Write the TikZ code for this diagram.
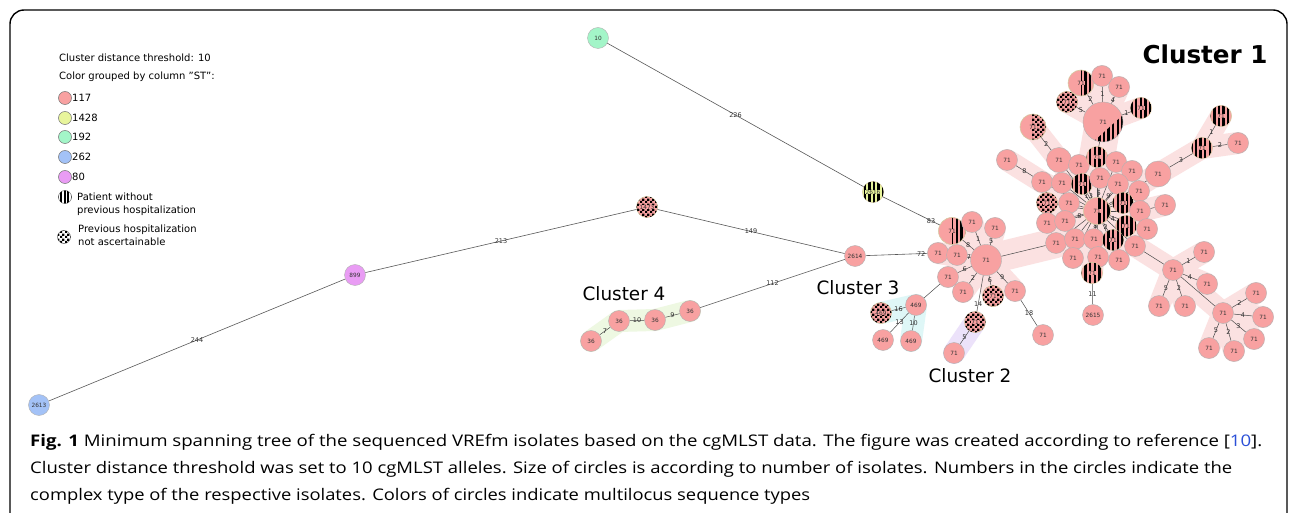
\documentclass[tikz,border=0pt]{standalone}
\usepackage{fontspec}
\setmainfont{DejaVu Sans}
\newfontfamily\capfont{Open Sans}
\usepackage{graphicx}
\usetikzlibrary{patterns,patterns.meta}
\definecolor{pk}{HTML}{F8A1A1}
\definecolor{pkband}{HTML}{FBE1E1}
\definecolor{ylw}{HTML}{E8F59C}
\definecolor{grn}{HTML}{A3F5C8}
\definecolor{blu}{HTML}{A3C2F7}
\definecolor{vio}{HTML}{E99CF4}
\definecolor{tanb}{HTML}{D6C8A0}
\definecolor{cyb}{HTML}{DFF7F7}
\definecolor{lvb}{HTML}{ECE2FA}
\definecolor{grb}{HTML}{EEF8E2}
\definecolor{edgec}{HTML}{4A4A4A}
\definecolor{refblue}{HTML}{2B50D8}
\pgfdeclarepatternformonly{chk}{\pgfpointorigin}{\pgfqpoint{5pt}{5pt}}{\pgfqpoint{5pt}{5pt}}{%
  \pgfpathrectangle{\pgfpointorigin}{\pgfqpoint{2.55pt}{2.55pt}}%
  \pgfpathrectangle{\pgfqpoint{2.5pt}{2.5pt}}{\pgfqpoint{2.55pt}{2.55pt}}%
  \pgfusepath{fill}}
\newcommand\tagbx[2][pk]{{\setlength{\fboxsep}{0.3pt}\colorbox{#1}{#2}}}
\pgfdeclarelayer{bands}
\pgfdeclarelayer{edges}
\pgfsetlayers{bands,edges,main}
\tikzset{
  nd/.style={circle, draw=black!30, line width=0.4pt, fill=pk, inner sep=0pt,
    minimum size=21pt, font=\fontsize{5.8}{5.8}\selectfont, text=black!80},
  sz/.style={minimum size=#1},
  strp/.style={pattern={Lines[angle=90,distance=4.6pt,line width=2.3pt]}, pattern color=black},
  st/.style={nd, draw=tanb, line width=0.6pt, postaction={strp}},
  ck/.style={nd, draw=tanb, line width=0.6pt, postaction={pattern=chk, pattern color=black}},
  ps/.style={nd, draw=tanb, line width=0.6pt, path picture={\fill[strp] ([xshift=#1]path picture bounding box.south) rectangle (path picture bounding box.north east);}},
  pc/.style={nd, draw=tanb, line width=0.6pt, path picture={\fill[pattern=chk, pattern color=black] ([xshift=#1]path picture bounding box.south) rectangle (path picture bounding box.north east);}},
  udiag/.style={path picture={\fill[strp] ([xshift=-10pt]path picture bounding box.south) -- ([yshift=7pt]path picture bounding box.east) -- (path picture bounding box.south east) -- cycle;}},
  ed/.style={draw=edgec, line width=0.5pt},
  led/.style={draw=black!65, line width=0.6pt},
  lbl/.style={font=\fontsize{6.5}{6.5}\selectfont, text=black!80, inner sep=0.5pt},
  band/.style={line width=22pt, draw=pkband, line cap=round, line join=round},
  leg/.style={font=\fontsize{10}{12}\selectfont, anchor=base west, inner sep=0pt},
  legc/.style={circle, draw=black!55, line width=0.5pt, minimum size=13pt, inner sep=0pt},
  cl/.style={font=\fontsize{18.4}{20}\selectfont, inner sep=0pt},
  captx/.style={anchor=base west, inner sep=0pt, font=\capfont\fontsize{16}{20}\selectfont},
}
\begin{document}
\begin{tikzpicture}[x=1pt,y=-1pt]
\useasboundingbox (0,0) rectangle (1293,513);
\begin{pgfonlayer}{bands}
\fill[white] (0,0) rectangle (1293,513);
\end{pgfonlayer}
\draw[line width=1.4pt, rounded corners=14pt] (10,530) -- (10,10) -- (1287,10) -- (1287,530);

% legend
\node[leg] (lg1) at (59,62) {Cluster distance threshold: 10};
\node[leg] (lg2) at (59,80) {Color grouped by column "ST":};
\node[legc,fill=pk] (k1) at (65,98) {}; \node[leg] (t1) at (72,102) {117};
\node[legc,fill=ylw] (k2) at (65,118) {}; \node[leg] (t2) at (72,122) {1428};
\node[legc,fill=grn] (k3) at (65,137) {}; \node[leg] (t3) at (72,141) {192};
\node[legc,fill=blu] (k4) at (65,157) {}; \node[leg] (t4) at (72,161) {262};
\node[legc,fill=vio] (k5) at (65,177) {}; \node[leg] (t5) at (72,181) {80};
\node[legc,fill=white,postaction={pattern={Lines[angle=90,distance=3.4pt,line width=1.8pt]},pattern color=black}] (k6) at (65,197) {};
\node[leg] (t6) at (77,201) {Patient without};
\node[leg] (t6b) at (77,214) {previous hospitalization};
\node[legc,fill=white,postaction={pattern=chk,pattern color=black}] (k7) at (64,237) {};
\node[leg] (t7) at (78,233) {Previous hospitalization};
\node[leg] (t7b) at (78,245) {not ascertainable};

% cluster titles
\node[font=\bfseries\fontsize{24.6}{26}\selectfont, inner sep=0pt] (cl1) at (1205,54) {Cluster 1};
\node[cl] (cl4) at (624,294) {Cluster 4};
\node[cl] (cl3) at (858,288) {Cluster 3};
\node[cl] (cl2) at (970,376) {Cluster 2};

% caption
\node[captx] (cap1) at (30,446) {\resizebox{1232pt}{\height}{\textbf{Fig. 1} Minimum spanning tree of the sequenced VREfm isolates based on the cgMLST data. The figure was created according to reference [\textcolor{refblue}{10}].}};
\node[captx] (cap2) at (30,473) {\resizebox{1202pt}{\height}{Cluster distance threshold was set to 10 cgMLST alleles. Size of circles is according to number of isolates. Numbers in the circles indicate the}};
\node[captx] (cap3) at (30,500) {\resizebox{780pt}{\height}{complex type of the respective isolates. Colors of circles indicate multilocus sequence types}};

% standalone nodes
\node[nd,fill=grn] (n10) at (598,38) {10};
\node[st,fill=ylw] (n2616) at (873,192) {\tagbx[ylw]{2616}};
\node[ck] (n1473) at (647,207) {\tagbx{1473}};
\node[nd,fill=vio] (n899) at (355,275) {899};
\node[nd,fill=blu] (n2613) at (39,405) {2613};
\node[nd] (n2614) at (855,256) {2614};
\node[nd] (c4a) at (591,341) {36};
\node[nd] (c4b) at (619,321) {36};
\node[nd] (c4c) at (655,320) {36};
\node[nd] (c4d) at (690,311) {36};
\node[nd] (c3a) at (916,305) {469};
\node[ck] (c3b) at (881,313) {\tagbx{469}};
\node[nd] (c3c) at (883,340) {469};
\node[nd] (c3d) at (911,341) {469};
\node[ck] (c2a) at (975,322) {\tagbx{71}};
\node[nd] (c2b) at (954,353) {71};

% left part of cluster 1
\node[nd,sz=31pt] (A0) at (986,260) {71};
\node[ps=0pt,sz=27pt] (A1) at (952,231) {\tagbx{71}};
\node[nd] (A2) at (972,222) {71};
\node[nd] (A3) at (995,228) {71};
\node[nd] (A4) at (938,253) {71};
\node[nd] (A5) at (957,255) {71};
\node[nd] (A6) at (948,277) {71};
\node[nd] (A7) at (963,292) {71};
\node[ck] (A8) at (993,296) {\tagbx{71}};
\node[nd] (A9) at (1015,291) {71};
\node[nd] (A10) at (1043,335) {71};
\node[nd] (n2615) at (1093,315) {2615};

% core of cluster 1
\node[ps=1pt,sz=27pt] (M0) at (1097,211) {\tagbx{71}};
\node[nd,sz=25pt] (Mb) at (1059,160) {71};
\node[nd] (m1) at (1079,165) {71};
\node[st] (m2) at (1097,157) {\tagbx{71}};
\node[nd] (m3) at (1116,162) {71};
\node[nd] (m4) at (1132,171) {71};
\node[nd,sz=26pt] (Mc) at (1158,174) {71};
\node[nd] (m5) at (1042,182) {71};
\node[nd] (m6) at (1062,183) {71};
\node[st] (m7) at (1082,184) {\tagbx{71}};
\node[nd] (m8) at (1100,178) {71};
\node[nd] (m9) at (1118,184) {71};
\node[nd] (m10) at (1139,191) {71};
\node[st] (m11) at (1123,203) {\tagbx{71}};
\node[ck] (m12) at (1047,203) {\tagbx{71}};
\node[nd] (m13) at (1069,203) {71};
\node[nd] (m14) at (1140,211) {71};
\node[nd] (m15) at (1165,205) {71};
\node[nd] (m16) at (1047,223) {71};
\node[nd] (m17) at (1065,221) {71};
\node[st] (m18) at (1126,226) {\tagbx{71}};
\node[nd] (m19) at (1147,229) {71};
\node[nd] (m20) at (1056,243) {71};
\node[nd] (m21) at (1075,239) {71};
\node[nd] (m22) at (1094,239) {71};
\node[st] (m23) at (1113,240) {\tagbx{71}};
\node[nd] (m24) at (1135,246) {71};
\node[nd] (m25) at (1073,258) {71};
\node[nd] (m26) at (1098,257) {71};
\node[nd] (m27) at (1119,260) {71};
\node[st] (m28) at (1092,273) {\tagbx{71}};

% upper part
\node[pc=-1pt,sz=26pt] (P) at (1033,127) {\tagbx{71}};
\node[nd] (m5b) at (1007,160) {71};
\node[ps=0pt,sz=26pt] (U1) at (1081,83) {\tagbx{71}};
\node[nd] (U2) at (1102,76) {71};
\node[nd] (U3) at (1119,87) {71};
\node[ck] (U4) at (1067,102) {\tagbx{71}};
\node[st] (U5) at (1141,108) {\tagbx{71}};
\node[nd,sz=40pt,udiag] (U0) at (1103,122) {\tagbx{71}};
\node[st] (S1) at (1202,148) {\tagbx{71}};
\node[st] (S2) at (1221,116) {\tagbx{71}};
\node[nd] (S3) at (1238,143) {71};

% lower right
\node[nd] (H1) at (1173,270) {71};
\node[nd] (h1) at (1204,252) {71};
\node[nd] (h2) at (1207,284) {71};
\node[nd] (h3) at (1159,306) {71};
\node[nd] (h4) at (1185,306) {71};
\node[nd] (H2) at (1223,313) {71};
\node[nd] (h5) at (1256,293) {71};
\node[nd] (h6) at (1263,317) {71};
\node[nd] (h7) at (1254,339) {71};
\node[nd] (h8) at (1234,351) {71};
\node[nd] (h9) at (1209,348) {71};

% hulls
\begin{pgfonlayer}{bands}
\draw[band,draw=grb] (c4a.center) -- (c4b.center) -- (c4c.center) -- (c4d.center);
\draw[band,draw=cyb] (c3b.center) -- (c3a.center) -- (c3d.center);
\draw[band,draw=lvb] (c2a.center) -- (c2b.center);
\foreach \a/\b in {A0/A1,A0/A2,A0/A3,A0/A4,A0/A5,A0/A6,A0/A7,A0/A8,A0/A9,
  M0/Mb,M0/m1,M0/m2,M0/m3,M0/m4,M0/Mc,M0/m5,M0/m6,M0/m7,M0/m8,M0/m9,M0/m10,M0/m11,M0/m12,M0/m13,M0/m14,M0/m16,M0/m17,M0/m18,M0/m19,M0/m20,M0/m21,M0/m22,M0/m23,M0/m24,M0/m25,M0/m26,M0/m27,M0/m28,
  U0/U1,U0/U2,U0/U3,U0/U4,U0/U5,Mb/P,m5/m5b,Mc/S1,S1/S2,S1/S3,m14/m15,
  m24/H1,H1/h1,H1/h2,H1/h3,H1/h4,H1/H2,H2/h5,H2/h6,H2/h7,H2/h8,H2/h9}
  \draw[band] (\a.center) -- (\b.center);
\draw[band,line width=30pt] (A0.center) -- (m20.center);
\draw[band,line width=36pt] (m2.center) -- (U0.center);
\end{pgfonlayer}

% edges
\begin{pgfonlayer}{edges}
\draw[led] (n10) -- node[lbl]{226} (n2616);
\draw[led] (n2616) -- node[lbl,pos=0.85]{83} (A1);
\draw[led] (n2613) -- node[lbl]{244} (n899);
\draw[led] (n899) -- node[lbl]{213} (n1473);
\draw[led] (n1473) -- node[lbl]{149} (n2614);
\draw[led] (c4d) -- node[lbl]{112} (n2614);
\draw[led] (n2614) -- node[lbl,pos=0.9]{72} (A4);
\draw[ed] (c4a) -- node[lbl]{7} (c4b);
\draw[ed] (c4b) -- node[lbl]{10} (c4c);
\draw[ed] (c4c) -- node[lbl]{9} (c4d);
\draw[ed] (c3a) -- node[lbl]{16} (c3b);
\draw[ed] (c3a) -- node[lbl]{13} (c3c);
\draw[ed] (c3a) -- node[lbl]{10} (c3d);
\draw[ed] (c3a) -- (A6);
\draw[ed] (c2a) -- node[lbl]{5} (c2b);
\draw[ed] (A0) -- node[lbl,pos=0.8]{14} (c2a);
\draw[ed] (A0) -- node[lbl]{8} (A1);
\draw[ed] (A0) -- node[lbl]{1} (A2);
\draw[ed] (A0) -- node[lbl]{5} (A3);
\draw[ed] (A0) -- (A4);
\draw[ed] (A0) -- node[lbl]{7} (A5);
\draw[ed] (A0) -- node[lbl]{6} (A6);
\draw[ed] (A0) -- node[lbl]{2} (A7);
\draw[ed] (A0) -- node[lbl]{6} (A8);
\draw[ed] (A0) -- node[lbl]{9} (A9);
\draw[ed] (A9) -- node[lbl]{18} (A10);
\draw[ed] (A0) -- (m20);
\draw[ed] (m28) -- node[lbl]{11} (n2615);
\foreach \t in {Mb,m1,m3,m4,Mc,m5,m6,m10,m11,m12,m13,m14,m16,m19,m20,m21,m24,m25,m26,m27,m28}
  \draw[ed] (M0) -- (\t);
\draw[ed] (M0) -- node[lbl]{13} (m7);
\draw[ed] (M0) -- node[lbl]{6} (m8);
\draw[ed] (M0) -- node[lbl]{9} (m9);
\draw[ed] (M0) -- node[lbl]{8} (m17);
\draw[ed] (M0) -- node[lbl]{8} (m22);
\draw[ed] (M0) -- node[lbl]{2} (m23);
\draw[ed] (M0) -- node[lbl]{4} (m18);
\draw[ed] (M0) -- (m2);
\draw[ed] (m2) -- (U0);
\draw[ed] (U0) -- node[lbl]{2} (U1);
\draw[ed] (U0) -- node[lbl]{1} (U2);
\draw[ed] (U0) -- node[lbl]{4} (U3);
\draw[ed] (U0) -- node[lbl]{5} (U4);
\draw[ed] (U0) -- node[lbl]{1} (U5);
\draw[ed] (Mb) -- node[lbl]{2} (P);
\draw[ed] (m5) -- node[lbl]{8} (m5b);
\draw[ed] (Mc) -- node[lbl]{3} (S1);
\draw[ed] (S1) -- node[lbl]{1} (S2);
\draw[ed] (S1) -- node[lbl]{2} (S3);
\draw[ed] (m14) -- (m15);
\draw[ed] (m24) -- (H1);
\draw[ed] (H1) -- node[lbl]{1} (h1);
\draw[ed] (H1) -- node[lbl]{4} (h2);
\draw[ed] (H1) -- node[lbl]{5} (h3);
\draw[ed] (H1) -- node[lbl]{2} (h4);
\draw[ed] (H1) -- (H2);
\draw[ed] (H2) -- node[lbl]{2} (h5);
\draw[ed] (H2) -- node[lbl]{4} (h6);
\draw[ed] (H2) -- node[lbl]{3} (h7);
\draw[ed] (H2) -- node[lbl]{2} (h8);
\draw[ed] (H2) -- node[lbl]{5} (h9);
\end{pgfonlayer}
\end{tikzpicture}
\end{document}
